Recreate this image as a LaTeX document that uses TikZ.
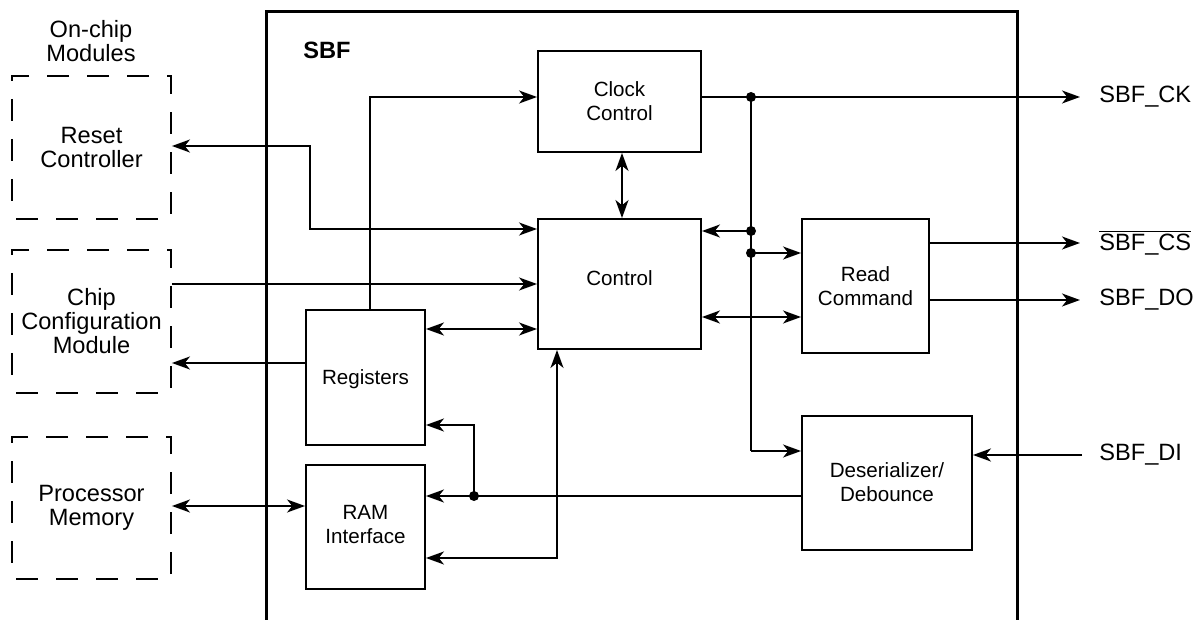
\documentclass[tikz,border=0pt]{standalone}
\usepackage{fontspec}
\setmainfont{Liberation Sans}
\usetikzlibrary{arrows.meta}
\begin{document}
\begin{tikzpicture}[x=0.5pt,y=-0.5pt,
  ar/.tip={Stealth[length=9pt,width=6.5pt,inset=2.6pt]},
  wire/.style={line width=0.85pt},
  blk/.style={draw,line width=0.95pt,inner sep=0pt},
  ext/.style={draw,line width=0.95pt,inner sep=0pt,dash pattern=on 11pt off 9pt,dash phase=-2pt},
  intxt/.style={font=\fontsize{10.3}{12}\selectfont,align=center},
  outxt/.style={font=\fontsize{11.8}{12}\selectfont,align=center},
  sig/.style={font=\fontsize{11.8}{12}\selectfont,anchor=west,inner sep=0pt},
  dot/.style={circle,fill,inner sep=0pt,minimum size=5pt}]
\useasboundingbox (0,0) rectangle (1200,620);
% SBF outline (open at bottom)
\draw[line width=1.5pt] (266,620) -- (266,12) -- (1017,12) -- (1017,620);
\node[font=\bfseries\fontsize{11.8}{12}\selectfont,anchor=west,inner sep=0pt] (sbf) at (303,50) {SBF};
% external modules
\node[outxt] (onchip) at (91,41) {On-chip\\Modules};
\node[ext,minimum width=79.5pt,minimum height=71.5pt] (reset) at (91.5,147.5) {};
\node[outxt] at (reset.center) {Reset\\Controller};
\node[ext,minimum width=79.5pt,minimum height=71.5pt] (chip) at (91.5,321.5) {};
\node[outxt] at (chip.center) {Chip\\Configuration\\Module};
\node[ext,minimum width=79.5pt,minimum height=71pt] (proc) at (91.5,508) {};
\node[outxt] at (proc.center) {Processor\\Memory};
% internal blocks
\node[blk,minimum width=81.5pt,minimum height=50.5pt] (clk) at (619.5,101.5) {};
\node[intxt] at (clk.center) {Clock\\Control};
\node[blk,minimum width=81.5pt,minimum height=65pt] (ctl) at (619.5,284) {};
\node[intxt] at (619.5,278) {Control};
\node[blk,minimum width=59.5pt,minimum height=67.5pt] (reg) at (365.5,377.5) {};
\node[intxt] at (365.5,379) {Registers};
\node[blk,minimum width=59.5pt,minimum height=62pt] (ram) at (365.5,527) {};
\node[intxt] at (365.5,525) {RAM\\Interface};
\node[blk,minimum width=63.5pt,minimum height=67pt] (rd) at (865.5,286) {};
\node[intxt] at (rd.center) {Read\\Command};
\node[blk,minimum width=85pt,minimum height=67pt] (des) at (887,483) {};
\node[intxt] at (887,482) {Deserializer/\\Debounce};
% signal labels
\node[sig] (ck) at (1099,97) {SBF\_CK};
\node[sig] (cs) at (1099,243) {$\overline{\mbox{SBF\_CS}}$};
\node[sig] (do) at (1099,300) {SBF\_DO};
\node[sig] (di) at (1099,455) {SBF\_DI};
% coordinates
\coordinate (ckend) at (1080,97);
\coordinate (csend) at (1080,243);
\coordinate (doend) at (1080,300);
\coordinate (distart) at (1082,455);
\node[dot] (d1) at (751,97) {};
\node[dot] (d2) at (751,231) {};
\node[dot] (d3) at (751,253) {};
\node[dot] (d4) at (474,496) {};
% connectors
\draw[wire,ar-ar] (reset.east |- 0,146) -- (310,146) -- (310,229) -- (ctl.west |- 0,229);
\draw[wire,-ar] (chip.east |- 0,284) -- (ctl.west |- 0,284);
\draw[wire,-ar] (reg.west |- 0,363) -- (chip.east |- 0,363);
\draw[wire,-ar] (370,310) -- (370,97) -- (clk.west |- 0,97);
\draw[wire,ar-ar] (reg.east |- 0,329) -- (ctl.west |- 0,329);
\draw[wire,ar-ar] (clk.south -| 622,0) -- (ctl.north -| 622,0);
\draw[wire,-ar] (clk.east |- 0,97) -- (ckend);
\draw[wire] (d1.center) -- (751,451);
\draw[wire,-ar] (751,451) -- (des.west |- 0,451);
\draw[wire,-ar] (d2.center) -- (ctl.east |- 0,231);
\draw[wire,-ar] (d3.center) -- (rd.west |- 0,253);
\draw[wire,ar-ar] (ctl.east |- 0,317) -- (rd.west |- 0,317);
\draw[wire,-ar] (rd.east |- 0,243) -- (csend);
\draw[wire,-ar] (rd.east |- 0,300) -- (doend);
\draw[wire,-ar] (distart) -- (des.east |- 0,455);
\draw[wire,-ar] (des.west |- 0,496) -- (ram.east |- 0,496);
\draw[wire,-ar] (d4.center) -- (474,425) -- (reg.east |- 0,425);
\draw[wire,ar-ar] (ram.east |- 0,558) -- (557,558) -- (ctl.south -| 557,0);
\draw[wire,ar-ar] (proc.east |- 0,506) -- (ram.west |- 0,506);
\end{tikzpicture}
\end{document}
